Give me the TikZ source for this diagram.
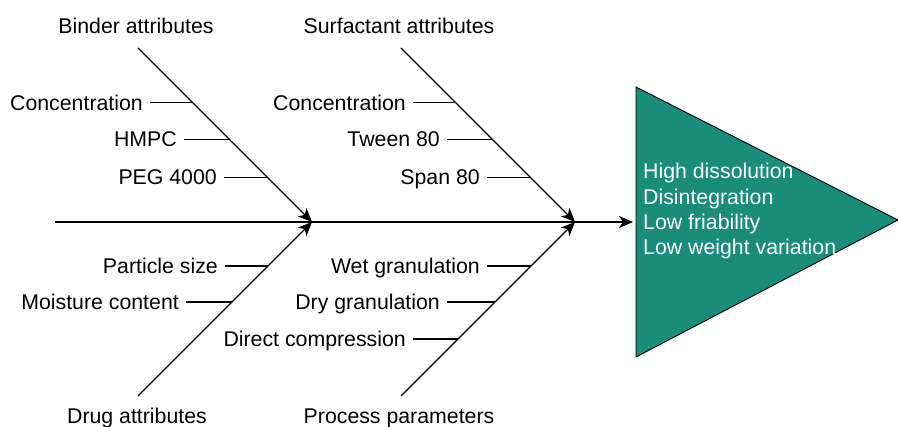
\documentclass[tikz,border=0pt]{standalone}
\usepackage{fontspec}
\setmainfont{Liberation Sans}
\usetikzlibrary{arrows.meta}
\definecolor{teal1}{RGB}{25,141,122}
\tikzset{
  lbl/.style={inner sep=0pt, anchor=east, text height=15.3pt, text depth=0pt, font=\fontsize{21.3}{25}\selectfont},
  ttl/.style={inner sep=0pt, text height=15.3pt, text depth=0pt, font=\fontsize{21.3}{25}\selectfont},
  eft/.style={inner sep=0pt, anchor=base west, text=white, font=\fontsize{21.3}{25}\selectfont},
  ln/.style={line width=1.1pt, black},
  arr/.style={ln, -{Stealth[length=14pt,width=12pt,inset=4pt]}},
}
\begin{document}
\begin{tikzpicture}[x=1pt,y=-1pt]
\useasboundingbox (0,0) rectangle (898,427);
% key points
\coordinate (j1) at (312,222);
\coordinate (j2) at (575,222);
\coordinate (s0) at (55,222);
\coordinate (s1) at (633,222);
\coordinate (t1) at (138,48);
\coordinate (t2) at (401,48);
\coordinate (b1) at (138,396);
\coordinate (b2) at (401,396);
% effect triangle
\draw[ln, line width=0.9pt, fill=teal1] (636,87) coordinate (ta) -- (898,220) coordinate (tb) -- (636,357) coordinate (tc) -- cycle;
\node[eft] (e1) at (643,179) {High dissolution};
\node[eft] (e2) at (643,204.3) {Disintegration};
\node[eft] (e3) at (643,229.6) {Low friability};
\node[eft] (e4) at (643,254.9) {Low weight variation};
% spine and branches
\draw[ln] (s0) -- (j1);
\draw[ln] (j1) -- (j2);
\draw[arr] (j2) -- (s1);
\draw[arr] (t1) -- (j1);
\draw[arr] (b1) -- (j1);
\draw[arr] (t2) -- (j2);
\draw[arr] (b2) -- (j2);
% titles
\node[ttl] (tb1) at (136,26) {Binder attributes};
\node[ttl] (tb2) at (399,26) {Surfactant attributes};
\node[ttl] (tb3) at (137,416) {Drug attributes};
\node[ttl] (tb4) at (399,416) {Process parameters};
% binder ribs
\coordinate (r11) at (192.7,102.7);
\coordinate (r12) at (229.3,139.3);
\coordinate (r13) at (267.3,177.3);
\node[lbl] (c11) at (143,102.7) {Concentration};
\node[lbl] (c12) at (177,139.3) {HMPC};
\node[lbl] (c13) at (217,177.3) {PEG 4000};
\draw[ln] ([xshift=7pt]c11.east) -- (r11);
\draw[ln] ([xshift=7pt]c12.east) -- (r12);
\draw[ln] ([xshift=7pt]c13.east) -- (r13);
% surfactant ribs
\coordinate (r21) at (455.7,102.7);
\coordinate (r22) at (492.3,139.3);
\coordinate (r23) at (530.3,177.3);
\node[lbl] (c21) at (406,102.7) {Concentration};
\node[lbl] (c22) at (440,139.3) {Tween 80};
\node[lbl] (c23) at (480,177.3) {Span 80};
\draw[ln] ([xshift=7pt]c21.east) -- (r21);
\draw[ln] ([xshift=7pt]c22.east) -- (r22);
\draw[ln] ([xshift=7pt]c23.east) -- (r23);
% drug ribs
\coordinate (r31) at (268,266);
\coordinate (r32) at (232,302);
\node[lbl] (c31) at (218,266) {Particle size};
\node[lbl] (c32) at (179,302) {Moisture content};
\draw[ln] ([xshift=7pt]c31.east) -- (r31);
\draw[ln] ([xshift=7pt]c32.east) -- (r32);
% process ribs
\coordinate (r41) at (531,266);
\coordinate (r42) at (495,302);
\coordinate (r43) at (458,339);
\node[lbl] (c41) at (480,266) {Wet granulation};
\node[lbl] (c42) at (440,302) {Dry granulation};
\node[lbl] (c43) at (406,339) {Direct compression};
\draw[ln] ([xshift=7pt]c41.east) -- (r41);
\draw[ln] ([xshift=7pt]c42.east) -- (r42);
\draw[ln] ([xshift=7pt]c43.east) -- (r43);
\end{tikzpicture}
\end{document}
